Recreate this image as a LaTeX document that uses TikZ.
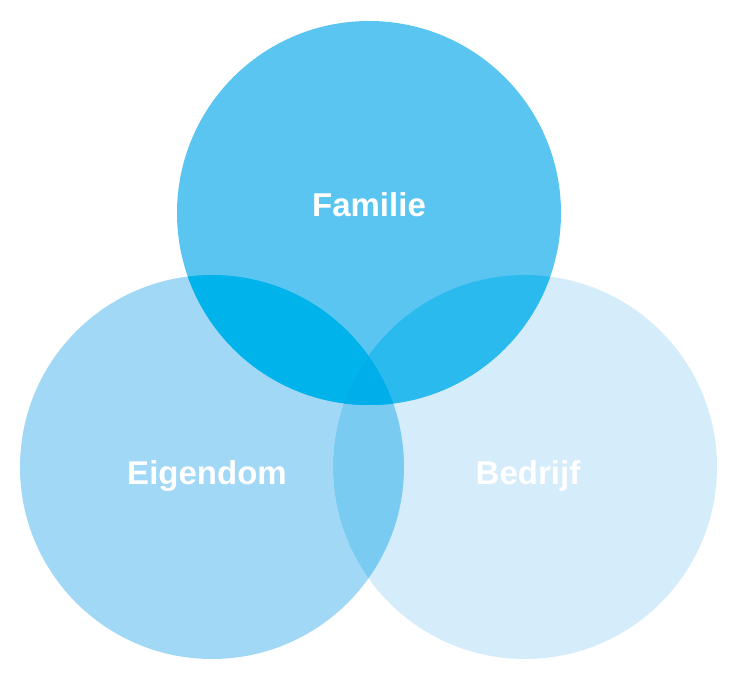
\documentclass[tikz,border=0pt]{standalone}
\usepackage{fontspec}
\setmainfont{Liberation Sans}
\begin{document}
\begin{tikzpicture}[x=1pt,y=-1pt,lbl/.style={text=white,font=\fontsize{33}{36}\selectfont\bfseries}]
\definecolor{cT}{HTML}{5BC5F2}\definecolor{cL}{HTML}{A1D8F6}\definecolor{cR}{HTML}{D5ECFA}
\definecolor{cLR}{HTML}{7ACBF2}\definecolor{cTL}{HTML}{00B4EB}\definecolor{cTR}{HTML}{2ABAEE}\definecolor{cA}{HTML}{00AEEA}
\fill[white] (0,0) rectangle (737,682);
\def\T{(369,213) circle[radius=192]}
\def\L{(212,467) circle[radius=192]}
\def\R{(525,467) circle[radius=192]}
\fill[cL] \L; \fill[cR] \R;
\begin{scope}\clip \L; \fill[cLR] \R;\end{scope}
\fill[cT] \T;
\begin{scope}\clip \T; \fill[cTL] \L;\end{scope}
\begin{scope}\clip \T; \fill[cTR] \R;\end{scope}
\begin{scope}\clip \T; \clip \L; \fill[cA] \R;\end{scope}
\node[lbl] (f) at (369,205) {Familie};
\node[lbl] (e) at (207,476) {Eigendom};
\node[lbl] (b) at (528,476) {Bedrijf};
\end{tikzpicture}
\end{document}
